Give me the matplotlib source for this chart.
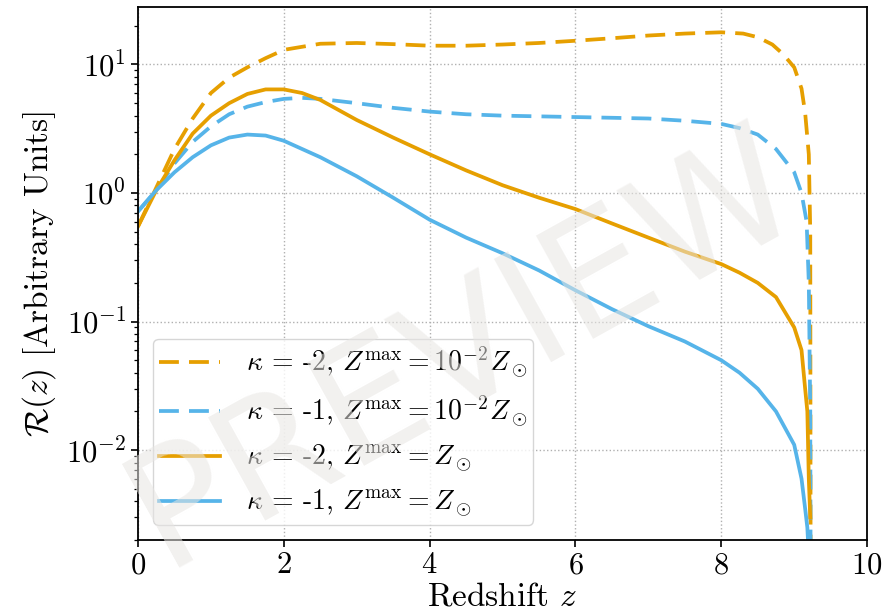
import numpy as np
import matplotlib.pyplot as plt

plt.rcParams['font.family'] = ['cmr10']
plt.rcParams['mathtext.fontset'] = 'cm'
plt.rcParams['axes.unicode_minus'] = False
plt.rcParams['axes.formatter.use_mathtext'] = True

ORANGE = '#E69F00'
BLUE = '#56B4E9'

# kappa = -2, Zmax = 1e-2 Zsun
z_k2_low = [0.0, 0.25, 0.5, 0.75, 1.0, 1.25, 1.5, 1.75, 2.0, 2.5, 3.0, 3.5, 4.0,
            4.5, 5.0, 5.5, 6.0, 6.5, 7.0, 7.5, 8.0, 8.3, 8.5, 8.7, 8.85, 9.0,
            9.1, 9.15, 9.2, 9.22, 9.225]
r_k2_low = [0.55, 1.1, 2.2, 3.8, 6.0, 7.9, 9.5, 11.2, 13.0, 14.5, 14.7, 14.4, 14.0,
            14.0, 14.3, 14.7, 15.3, 16.0, 16.8, 17.4, 17.8, 17.4, 16.3, 14.3, 12.0, 9.5,
            6.5, 4.2, 2.0, 0.5, 0.001]

# kappa = -1, Zmax = 1e-2 Zsun
z_k1_low = [0.0, 0.25, 0.5, 0.75, 1.0, 1.25, 1.5, 1.75, 2.0, 2.25, 2.5, 3.0, 3.5,
            4.0, 4.5, 5.0, 5.5, 6.0, 6.5, 7.0, 7.5, 8.0, 8.25, 8.5, 8.75, 9.0,
            9.1, 9.17, 9.2, 9.22, 9.225]
r_k1_low = [0.72, 1.05, 1.7, 2.5, 3.3, 4.1, 4.7, 5.1, 5.4, 5.5, 5.4, 5.0, 4.6,
            4.3, 4.1, 4.0, 3.95, 3.9, 3.85, 3.8, 3.65, 3.45, 3.2, 2.85, 2.2, 1.45,
            1.0, 0.6, 0.2, 0.02, 0.001]

# kappa = -2, Zmax = Zsun
z_k2_high = [0.0, 0.25, 0.5, 0.75, 1.0, 1.25, 1.5, 1.75, 2.0, 2.25, 2.5, 3.0, 3.5,
             4.0, 4.5, 5.0, 5.5, 6.0, 6.5, 7.0, 7.5, 8.0, 8.25, 8.5, 8.75, 9.0,
             9.1, 9.15, 9.18, 9.2, 9.22]
r_k2_high = [0.55, 1.05, 1.8, 2.9, 4.0, 5.0, 5.9, 6.4, 6.4, 6.0, 5.3, 3.7, 2.7,
             2.0, 1.5, 1.15, 0.92, 0.75, 0.58, 0.45, 0.35, 0.28, 0.24, 0.2, 0.155, 0.09,
             0.06, 0.03, 0.02, 0.006, 0.003]

# kappa = -1, Zmax = Zsun
z_k1_high = [0.0, 0.25, 0.5, 0.75, 1.0, 1.25, 1.5, 1.75, 2.0, 2.5, 3.0, 3.5, 4.0,
             4.5, 5.0, 5.5, 6.0, 6.5, 7.0, 7.5, 8.0, 8.25, 8.5, 8.75, 9.0, 9.1,
             9.15, 9.18, 9.2, 9.22]
r_k1_high = [0.72, 1.05, 1.45, 1.9, 2.35, 2.7, 2.85, 2.8, 2.55, 1.9, 1.35, 0.92, 0.62,
             0.45, 0.34, 0.25, 0.175, 0.125, 0.092, 0.07, 0.05, 0.04, 0.03, 0.02, 0.011, 0.006,
             0.0035, 0.0025, 0.0015, 0.0005]

labels = [r'$\kappa$ = -2, $Z^{\rm max} = 10^{-2}Z_\odot$',
          r'$\kappa$ = -1, $Z^{\rm max} = 10^{-2}Z_\odot$',
          r'$\kappa$ = -2, $Z^{\rm max} = Z_\odot$',
          r'$\kappa$ = -1, $Z^{\rm max} = Z_\odot$']

fig = plt.figure(figsize=(8.87, 6.15), dpi=100)
ax = fig.add_axes([0.1556, 0.122, 0.822, 0.8666])

lw = 2.7
ax.plot(z_k2_low, r_k2_low, color=ORANGE, lw=lw, ls='--', dashes=(5.3, 2.7), label=labels[0])
ax.plot(z_k1_low, r_k1_low, color=BLUE, lw=lw, ls='--', dashes=(5.3, 2.7), label=labels[1])
ax.plot(z_k2_high, r_k2_high, color=ORANGE, lw=lw, label=labels[2])
ax.plot(z_k1_high, r_k1_high, color=BLUE, lw=lw, label=labels[3])

ax.set_yscale('log')
ax.set_xlim(0, 10)
ax.set_ylim(2e-3, 28)
ax.grid(True, which='major', ls=':', color='#b0b0b0', lw=1.0)
ax.tick_params(which='major', labelsize=22, length=5, width=1.2)
ax.tick_params(which='minor', length=3, width=0.9)
for s in ax.spines.values():
    s.set_linewidth(1.3)

ax.set_xlabel(r'Redshift $z$', fontsize=24, labelpad=2)
ax.set_ylabel(r'$\mathcal{R}(z)$ [Arbitrary Units]', fontsize=24, labelpad=6)

ax.legend(loc='lower left', fontsize=20, handlelength=2.2, framealpha=0.8,
          borderpad=0.2, labelspacing=0.5, handletextpad=0.95,
          bbox_to_anchor=(0.0015, 0.002))

fig.text(0.523, 0.43, 'PREVIEW', family='DejaVu Sans', fontsize=117,
         rotation=29, ha='center', va='center', color='#e8e6e3', alpha=0.55)

fig.savefig('out.png', dpi=100)
